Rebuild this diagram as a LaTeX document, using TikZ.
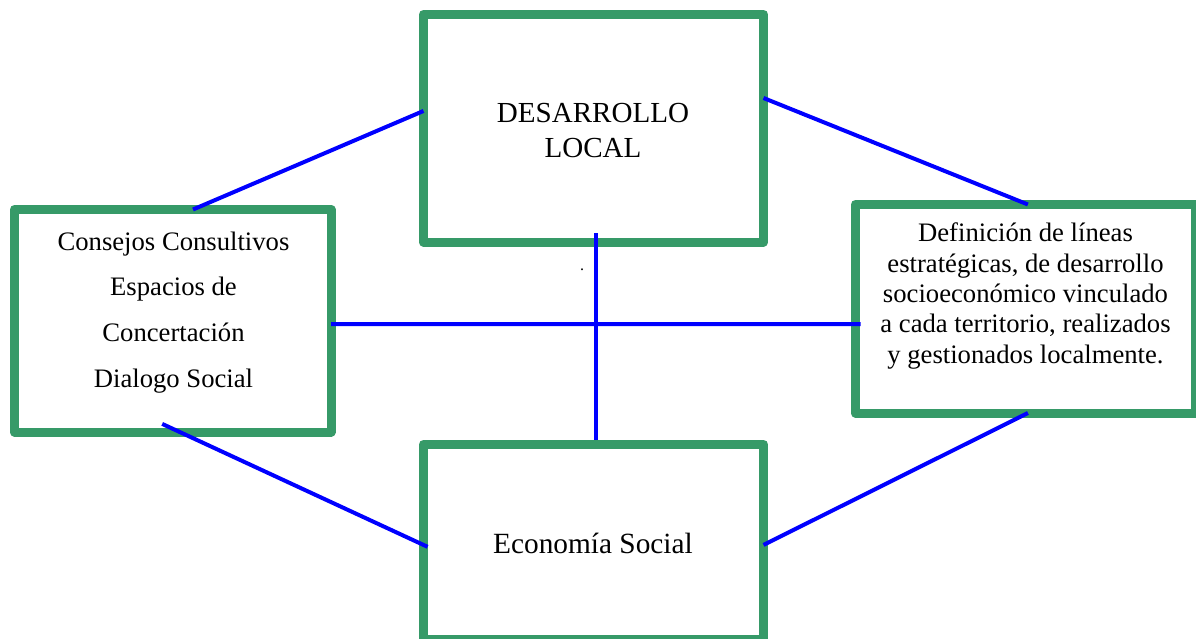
\documentclass[tikz,border=0pt]{standalone}
\usepackage{fontspec}
\setmainfont{Liberation Serif}
\usetikzlibrary{calc}
\definecolor{boxgreen}{RGB}{54,154,104}
\definecolor{linkblue}{RGB}{0,0,255}
\begin{document}
\begin{tikzpicture}[x=0.75pt,y=-0.75pt,
  box/.style={draw=boxgreen, line width=6.75pt, line join=round, fill=white, rectangle, inner sep=0pt, outer sep=0pt},
  link/.style={draw=linkblue, line width=3pt},
  txt/.style={inner sep=0pt, outer sep=0pt, align=center, text=black}]
\useasboundingbox (0,0) rectangle (1196,639);
\clip (0,0) rectangle (1196,639);
\fill[white] (0,0) rectangle (1196,639);
% boxes
\node[box, minimum width=340*0.75pt, minimum height=227.5*0.75pt] (T) at (593.5,128.25) {};
\node[box, minimum width=316.5*0.75pt, minimum height=222.5*0.75pt] (L) at (172.75,320.75) {};
\node[box, minimum width=340*0.75pt, minimum height=208.5*0.75pt] (R) at (1025.5,308.75) {};
\node[box, minimum width=340*0.75pt, minimum height=195*0.75pt] (B) at (593.5,542) {};
% texts (anchor base = baseline of the last line)
\node[txt, font=\fontsize{21.8pt}{26.25pt}\selectfont, anchor=base] (Ttext) at (593,157) {DESARROLLO\\LOCAL};
\node[txt, font=\fontsize{20pt}{34.25pt}\selectfont, anchor=base] (Ltext) at (173.5,387) {Consejos Consultivos\\Espacios de\\Concertación\\Dialogo Social};
\node[txt, font=\fontsize{20pt}{22.7pt}\selectfont, anchor=base] (Rtext) at (1025.5,363) {Definición de líneas\\estratégicas, de desarrollo\\socioeconómico vinculado\\a cada territorio, realizados\\y gestionados localmente.};
\node[txt, font=\fontsize{22pt}{26pt}\selectfont, anchor=base] (Btext) at (593,553) {Economía Social};
\node[txt, font=\fontsize{12pt}{14pt}\selectfont, anchor=base] (dot) at (582,270) {.};
% connectors
\draw[link] ($(L.north west)!0.564!(L.north east)$) -- ($(T.north west)!0.424!(T.south west)$);
\draw[link] ($(T.north east)!0.367!(T.south east)$) -- ($(R.north west)!0.507!(R.north east)$);
\draw[link, shorten <=-9*0.75pt, shorten >=4.5*0.75pt] ($(T.south west)!0.507!(T.south east)$) -- ($(B.north west)!0.507!(B.north east)$);
\draw[link, shorten >=-5*0.75pt] ($(L.north east)!0.515!(L.south east)$) -- ($(R.north west)!0.574!(R.south west)$);
\draw[link, shorten <=-19.3*0.75pt, shorten >=-4.5*0.75pt] ($(L.south west)!0.522!(L.south east)$) -- ($(B.north west)!0.515!(B.south west)$);
\draw[link] ($(R.south west)!0.507!(R.south east)$) -- ($(B.north east)!0.515!(B.south east)$);
\end{tikzpicture}
\end{document}
